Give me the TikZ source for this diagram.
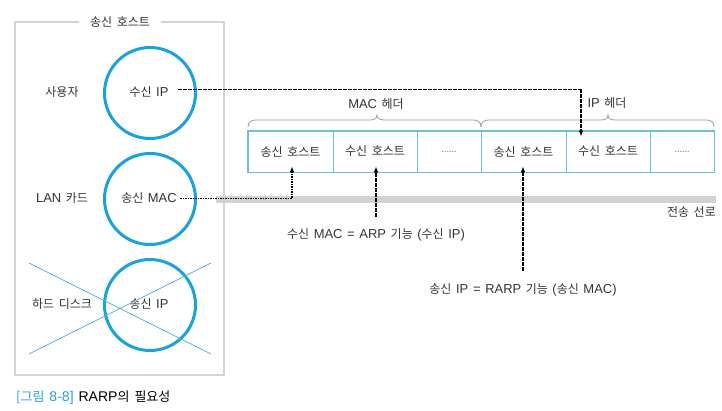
\documentclass[tikz,border=0pt]{standalone}
\usepackage{fontspec}
\setmainfont{Noto Sans CJK KR}[WordSpace=1.7]
\newfontfamily\latfont{Liberation Sans}[Scale=1.08, WordSpace=1.3]
\newcommand\lat[1]{{\latfont #1}}
\usetikzlibrary{arrows.meta}
\definecolor{circblue}{HTML}{1BA1DB}
\definecolor{cellblue}{HTML}{6BBFD6}
\definecolor{xblue}{HTML}{5AB0CC}
\definecolor{boxgray}{HTML}{D4D4D4}
\definecolor{bandgray}{HTML}{D2D2D2}
\definecolor{bracegray}{HTML}{9C9C9C}
\definecolor{txt}{HTML}{333333}
\definecolor{capblue}{HTML}{2A9FD6}
\begin{document}
\begin{tikzpicture}[x=1pt,y=-1pt,
  every node/.style={font=\fontsize{12}{14}\selectfont, text=txt},
  ring/.style={circle, draw=circblue, line width=3pt, minimum size=91pt, inner sep=0pt},
  cell/.style={draw=cellblue, line width=0.6pt, minimum height=41pt, inner sep=0pt, fill=white},
  dotscell/.style={cell, font=\fontsize{9}{10}\selectfont, text=gray},
  dotline/.style={black, line width=1.7pt, dash pattern=on 1.6pt off 0.9pt},
  dotarrow/.style={dotline, -{Latex[length=6pt,width=4.5pt]}, shorten >=-6pt},
  bracestyle/.style={draw=bracegray, line width=0.8pt},
]
\useasboundingbox (0,0) rectangle (722,410);

% outer host box
\draw[boxgray, line width=2pt] (15,22) rectangle (224,375);
\node[fill=white, inner xsep=11pt, inner ysep=2pt] (title) at (120,22) {송신 호스트};

% transmission line
\fill[bandgray] (216,196) rectangle (716,203);
\node[anchor=east, inner sep=0pt] (tline) at (716,212) {전송 선로};

% circles
\node[ring] (c1) at (150,93) {};
\node[ring] (c2) at (150,199) {};
\node[ring] (c3) at (150,305) {};
\node (t1) at (149,92) {수신 \lat{IP}};
\node (t2) at (149,198) {송신 \lat{MAC}};
\node (t3) at (149,304) {송신 \lat{IP}};
\node (l1) at (62,92) {사용자};
\node (l2) at (62,198) {\lat{LAN} 카드};
\node (l3) at (62,304) {하드 디스크};
\draw[xblue, line width=0.8pt] (29,263) -- (211,354) (29,354) -- (211,263);

% packet cells
\node[cell, minimum width=85pt] (m1) at (290.5,151.5) {송신 호스트};
\node[cell, minimum width=84pt] (m2) at (375,151.5) {수신 호스트};
\node[dotscell, minimum width=64pt] (m3) at (449,151.5) {......};
\node[cell, minimum width=85pt] (m4) at (523.5,151.5) {송신 호스트};
\node[cell, minimum width=84pt] (m5) at (608,151.5) {수신 호스트};
\node[dotscell, minimum width=64pt] (m6) at (682,151.5) {......};
\draw[cellblue, line width=1.4pt] (m1.north west) rectangle (m6.south east);

% braces
\draw[bracestyle] (248,127) .. controls (248,122) and (251,120) .. (256,120) -- (369,120)
  .. controls (374,120) and (377,119) .. (377,115) .. controls (377,119) and (380,120) .. (385,120)
  -- (473,120) .. controls (478,120) and (481,122) .. (481,127);
\draw[bracestyle] (481,127) .. controls (481,122) and (484,120) .. (489,120) -- (600,120)
  .. controls (605,120) and (608,119) .. (608,115) .. controls (608,119) and (611,120) .. (616,120)
  -- (706,120) .. controls (711,120) and (714,122) .. (714,127);
\node (hmac) at (376,104) {\lat{MAC} 헤더};
\node (hip) at (607,103) {\lat{IP} 헤더};

% connectors
\coordinate (k0) at ([xshift=6pt]t1.east);
\coordinate (k1) at (581,89.5);
\draw[dotarrow] (k0 |- k1) -- (k1) -- (k1 |- m5.north);
\coordinate (k2) at (292,198.5);
\draw[dotarrow] (t2.east |- k2) -- (k2) -- (k2 |- m1.south);

\node (f1) at (376,235) {수신 \lat{MAC = ARP} 기능 \lat{(}수신 \lat{IP)}};
\coordinate (q3) at (376,217);
\draw[dotarrow] (q3) -- (q3 |- m2.south);

\node (f2) at (523,290) {송신 \lat{IP = RARP} 기능 \lat{(}송신 \lat{MAC)}};
\coordinate (q4) at (523,271);
\draw[dotarrow] (q4) -- (q4 |- m4.south);

% caption
\node[anchor=west, inner sep=0pt, font=\fontsize{13}{15}\selectfont, text=black] (cap) at (16,398)
  {\textcolor{capblue}{[그림 \lat{8-8]}} \lat{RARP}의 필요성};
\end{tikzpicture}
\end{document}
